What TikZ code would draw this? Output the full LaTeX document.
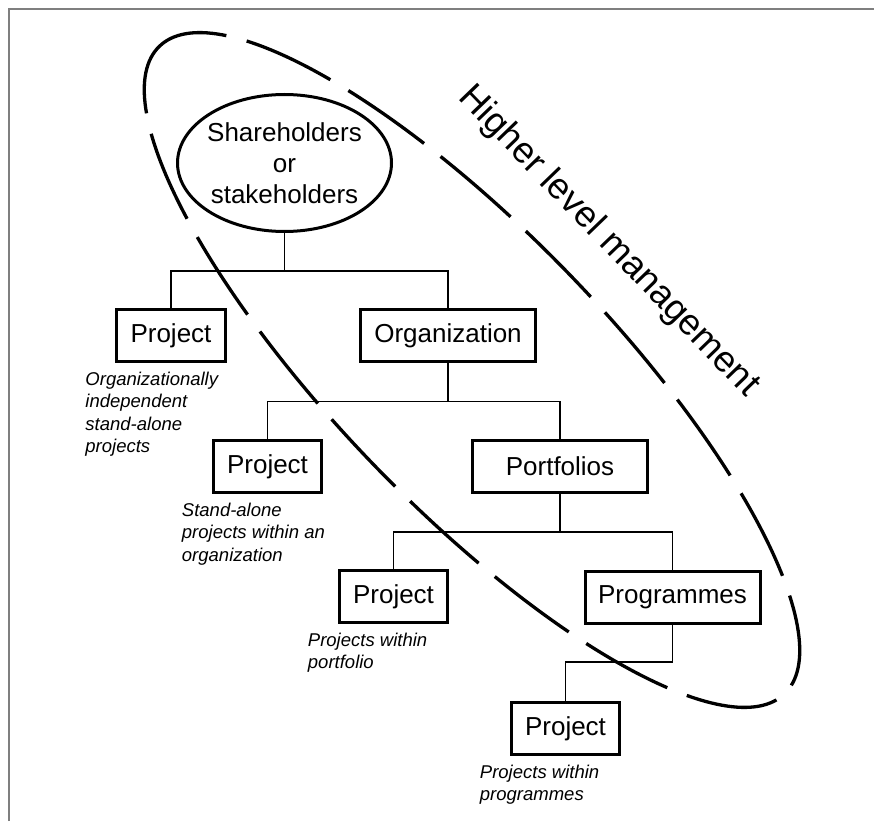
\documentclass[tikz,border=0pt]{standalone}
\usepackage{fontspec}
\setmainfont{Liberation Sans}
\usetikzlibrary{shapes.geometric}

\definecolor{framegray}{HTML}{7F7F7F}

\begin{document}
\begin{tikzpicture}[x=1pt,y=-1pt,
  box/.style={draw, line width=3pt, minimum height=52pt, inner sep=0pt,
    font=\fontsize{26}{32}\selectfont},
  projbox/.style={box, minimum width=108.5pt},
  unitbox/.style={box, minimum width=175pt},
  ownerellipse/.style={ellipse, draw, line width=3pt, minimum width=214pt,
    minimum height=137pt, inner sep=0pt},
  ownertext/.style={align=center, inner sep=0pt, font=\fontsize{26}{31.2}\selectfont},
  link/.style={line width=1.4pt},
  note/.style={anchor=north west, align=left, inner sep=0pt, xshift=-30pt, yshift=-9pt,
    font=\fontsize{18.5}{22.3}\selectfont\itshape},
  scopeline/.style={line width=3.3pt, dash pattern=on 92.4pt off 21pt, dash phase=21.4pt},
  scopetext/.style={rotate=-46, inner sep=0pt, font=\fontsize{36.5}{40}\selectfont}
]
\useasboundingbox (0,0) rectangle (874,821);

% page frame (top and left edges)
\draw[framegray, line width=1.5pt] (9,821) -- (9,9) -- (874,9);

% owners
\node[ownerellipse] (sh) at (284.5,163) {};
\node[ownertext] (shlabel) at (sh.center) {Shareholders\\or\\stakeholders};

% hierarchy boxes
\node[projbox] (p1)   at (171,335.5)   {Project};
\node[unitbox] (org)  at (448,335.5)   {Organization};
\node[projbox] (p2)   at (267.5,466.5) {Project};
\node[unitbox] (port) at (560,466.5)   {Portfolios};
\node[projbox] (p3)   at (393.5,596.5) {Project};
\node[unitbox] (prog) at (672.5,597)   {Programmes};
\node[projbox] (p4)   at (565.5,728.5) {Project};

% branch points of the tree
\coordinate (j1) at (284.5,271);
\coordinate (j2) at (448,401.7);
\coordinate (j3) at (560,532);
\coordinate (j4) at (672.5,662);

% tree connectors
\draw[link] (sh.south) -- (j1);
\draw[link] (p1.north) |- (j1) -| (org.north);
\draw[link] (org.south) -- (j2);
\draw[link] (p2.north) |- (j2) -| (port.north);
\draw[link] (port.south) -- (j3);
\draw[link] (p3.north) |- (j3) -| (prog.north);
\draw[link] (prog.south) -- (j4) -| (p4.north);

% notes under the project boxes
\node[note] (n1) at (p1.south west) {Organizationally\\independent\\stand-alone\\projects};
\node[note] (n2) at (p2.south west) {Stand-alone\\projects within an\\organization};
\node[note] (n3) at (p3.south west) {Projects within\\portfolio};
\node[note] (n4) at (p4.south west) {Projects within\\programmes};

% management scope
\draw[scopeline, shift={(472,370)}, rotate=134] (0,0) ellipse [x radius=450pt, y radius=136.5pt];
\node[scopetext] (hlm) at (608.5,241.5) {Higher level management};
\end{tikzpicture}
\end{document}
